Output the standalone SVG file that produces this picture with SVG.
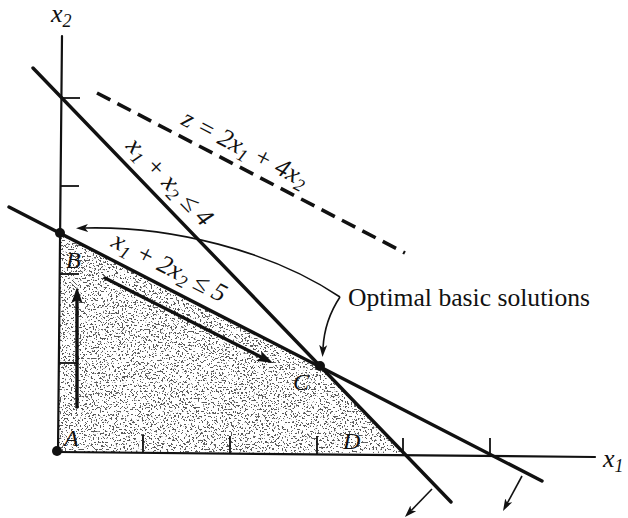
<svg xmlns="http://www.w3.org/2000/svg" width="628" height="518" viewBox="0 0 628 518">
<style>
.ax{stroke:#111;stroke-width:2.2;fill:none;stroke-linecap:round}
.tk{stroke:#111;stroke-width:1.8;fill:none}
.ln{stroke:#111;stroke-width:3.4;fill:none;stroke-linecap:round}
.dash{stroke:#111;stroke-width:3.6;fill:none;stroke-dasharray:15 8}
.thin{stroke:#111;stroke-width:1.6;fill:none}
.m{font-family:"Liberation Serif","Times New Roman",serif;font-style:italic;fill:#111}
.t{font-family:"Liberation Serif","Times New Roman",serif;fill:#111}
.pt{fill:#111}
</style>
<defs>
<marker id="big" viewBox="0 -6 18 12" markerWidth="18" markerHeight="12" refX="2" refY="0" orient="auto" markerUnits="userSpaceOnUse">
<path d="M0,-5.5 L16,0 L0,5.5 L3,0 z" fill="#111"/>
</marker>
<marker id="sm" viewBox="0 -5 13 10" markerWidth="13" markerHeight="10" refX="3" refY="0" orient="auto" markerUnits="userSpaceOnUse">
<path d="M0,-4 L12,0 L0,4 L3,0 z" fill="#111"/>
</marker>
<filter id="stip" x="0" y="0" width="100%" height="100%">
<feTurbulence type="fractalNoise" baseFrequency="0.55" numOctaves="2" seed="7" result="n"/>
<feColorMatrix in="n" type="matrix" values="0 0 0 0 0.1  0 0 0 0 0.1  0 0 0 0 0.1  -25 0 0 0 10.4" result="d"/>
<feComposite in="d" in2="SourceGraphic" operator="in"/>
</filter>
</defs>

<g id="region">
<polygon points="58,452 60,233 320,366 404,453" fill="#000" filter="url(#stip)"/>
</g>

<g id="axes">
<line class="ax" x1="62" y1="36" x2="58" y2="452"/>
<line class="ax" x1="57" y1="452" x2="595" y2="457"/>
<line class="tk" x1="61" y1="98" x2="80" y2="98"/>
<line class="tk" x1="61" y1="186" x2="79" y2="186"/>
<line class="tk" x1="60" y1="274" x2="79" y2="274"/>
<line class="tk" x1="59" y1="363" x2="77" y2="363"/>
<line class="tk" x1="143" y1="435" x2="143" y2="453"/>
<line class="tk" x1="230" y1="436" x2="230" y2="453"/>
<line class="tk" x1="317" y1="436" x2="317" y2="454"/>
<line class="tk" x1="403" y1="438" x2="403" y2="454"/>
<line class="tk" x1="490" y1="438" x2="490" y2="455"/>
<text class="m" x="51" y="22" font-size="26">x<tspan font-size="18" dy="5">2</tspan></text>
<text class="m" x="603" y="467" font-size="26">x<tspan font-size="18" dy="5">1</tspan></text>
</g>

<g id="connectors">
<line class="ln" x1="33" y1="68" x2="451" y2="502"/>
<line class="ln" x1="9" y1="207" x2="542" y2="481"/>
<line class="dash" x1="97" y1="93" x2="405" y2="253"/>
<line class="ln" x1="77" y1="407" x2="77" y2="301" marker-end="url(#big)"/>
<line class="ln" x1="105" y1="278" x2="260.5" y2="356.7" stroke-width="3" marker-end="url(#big)"/>
<path class="thin" d="M340,297 C270,250 170,226 85,228" marker-end="url(#sm)"/>
<path class="thin" d="M340,297 C330,312 324,330 323,348" marker-end="url(#sm)"/>
<line class="thin" x1="432" y1="489" x2="411.2" y2="510.5" marker-end="url(#sm)"/>
<line class="thin" x1="522" y1="476" x2="507.3" y2="503.1" marker-end="url(#sm)"/>
</g>

<g id="labels">
<text class="m" font-size="26" transform="translate(180,124) rotate(27.5)">z = 2x<tspan font-size="18" dy="5">1</tspan><tspan dy="-5"> + 4x</tspan><tspan font-size="18" dy="5">2</tspan></text>
<text class="m" font-size="26" transform="translate(125,147) rotate(46)">x<tspan font-size="18" dy="5">1</tspan><tspan dy="-5"> + x</tspan><tspan font-size="18" dy="5">2</tspan><tspan dy="-5"> ≤ 4</tspan></text>
<text class="m" font-size="26" transform="translate(110,246) rotate(27)">x<tspan font-size="18" dy="5">1</tspan><tspan dy="-5"> + 2x</tspan><tspan font-size="18" dy="5">2</tspan><tspan dy="-5"> ≤ 5</tspan></text>
<text class="t" x="348" y="306" font-size="26" textLength="242" lengthAdjust="spacingAndGlyphs">Optimal basic solutions</text>
</g>

<g id="A"><circle class="pt" cx="57" cy="451" r="5"/><text class="m" x="64" y="446" font-size="24">A</text></g>
<g id="B"><circle class="pt" cx="60" cy="233" r="5"/><text class="m" x="66" y="268" font-size="24">B</text></g>
<g id="C"><circle class="pt" cx="320" cy="366" r="5"/><text class="m" x="293" y="390" font-size="24">C</text></g>
<g id="D"><text class="m" x="343" y="449" font-size="24">D</text></g>
</svg>
